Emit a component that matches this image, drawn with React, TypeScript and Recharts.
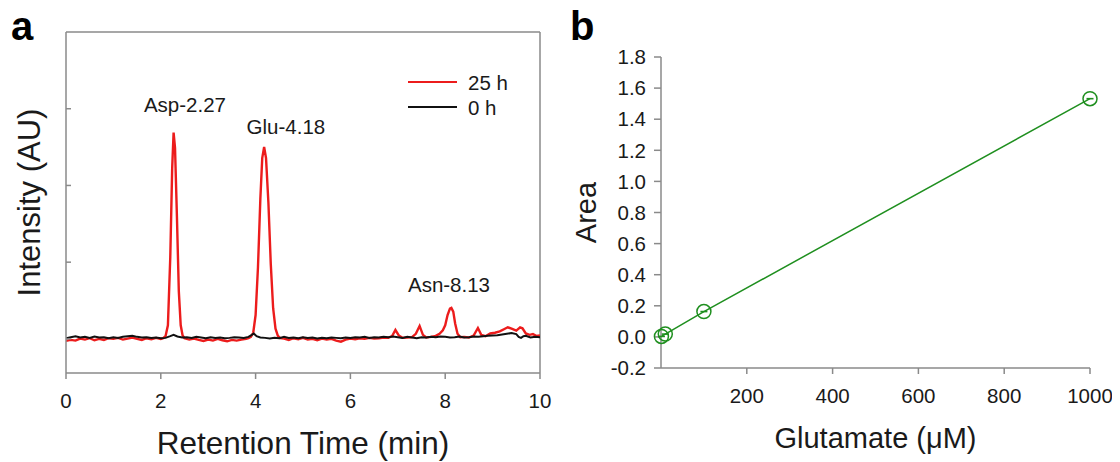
import React from 'react';
import {
  LineChart,
  Line,
  ComposedChart,
  XAxis,
  YAxis,
  ReferenceLine,
  ReferenceDot,
  Legend,
} from 'recharts';

const FONT = '"Liberation Sans", Arial, Helvetica, sans-serif';
const RED = '#ec1c1c';
const BLACK = '#111111';
const GREEN = '#1f8f1f';
const FRAME = '#8a8a8a';
const TEXT = '#1a1a1a';

// ---------- Panel a: chromatogram ----------
const time25h = [
  0.0, 0.1, 0.2, 0.3, 0.4, 0.5, 0.6, 0.7, 0.8, 0.9, 1.0, 1.1, 1.2, 1.3, 1.4, 1.5, 1.6, 1.7, 1.8, 1.9,
  2.0, 2.05, 2.1, 2.15, 2.2, 2.24, 2.27, 2.3, 2.34, 2.38, 2.42, 2.46, 2.5, 2.6, 2.7, 2.8, 2.9, 3.0,
  3.1, 3.2, 3.3, 3.4, 3.5, 3.6, 3.7, 3.8, 3.85, 3.9, 3.95, 4.0, 4.05, 4.1, 4.14, 4.18, 4.22, 4.27,
  4.32, 4.37, 4.42, 4.47, 4.52, 4.6, 4.7, 4.8, 4.9, 5.0, 5.1, 5.2, 5.3, 5.4, 5.5, 5.6, 5.7, 5.8,
  5.9, 6.0, 6.1, 6.2, 6.3, 6.4, 6.5, 6.6, 6.7, 6.8, 6.88, 6.95, 7.02, 7.1, 7.2, 7.3, 7.38, 7.46,
  7.53, 7.6, 7.7, 7.8, 7.88, 7.95, 8.0, 8.05, 8.1, 8.13, 8.17, 8.21, 8.26, 8.32, 8.4, 8.5, 8.6,
  8.69, 8.76, 8.85, 8.95, 9.05, 9.15, 9.25, 9.32, 9.4, 9.5, 9.58, 9.63, 9.7, 9.78, 9.85, 9.92, 10.0,
];
const intensity25h = [
  -0.6, -0.3, -0.5, 0.1, -0.2, 0.2, -0.4, 0.0, -0.3, 0.2, 0.0, 0.3, -0.2, 0.1, 0.4, 0.0, -0.3, 0.2, -0.1, 0.3,
  0.0, 0.2, 0.8, 4, 24, 50, 60.5, 56, 36, 14, 4, 1, 0.2, -0.2, 0.1, -0.3, -0.6, -0.2,
  -0.5, 0.0, -0.4, -0.7, -0.3, -0.5, -0.2, 0.0, 0.2, 0.6, 1.8, 7, 21, 41, 53, 56.3, 53, 40,
  22, 9, 3, 0.9, 0.2, 0.1, -0.3, 0.2, -0.1, 0.3, -0.2, 0.0, -0.4, 0.1, -0.2, 0.0, -0.5, -0.8,
  -0.2, 0.1, -0.1, 0.2, 0.0, 0.3, 0.1, 0.2, 0.4, 0.3, 0.8, 2.6, 1.0, 0.3, 0.4, 0.5, 1.5, 3.8,
  1.2, 0.4, 0.6, 0.9, 1.5, 2.5, 4, 7, 8.9, 9.1, 8.0, 4.5, 1.5, 0.5, 0.6, 0.4, 1.0,
  3.2, 1.2, 0.8, 1.6, 1.8, 2.2, 2.9, 3.4, 3.0, 2.4, 3.4, 3.1, 1.6, 1.2, 1.4, 0.9, 1.0,
];
const time0h = [
  0.0, 0.1, 0.2, 0.3, 0.4, 0.5, 0.6, 0.7, 0.8, 0.9, 1.0, 1.1, 1.2, 1.3, 1.4, 1.5, 1.6, 1.7, 1.8, 1.9,
  2.0, 2.1, 2.2, 2.27, 2.35, 2.45, 2.55, 2.65, 2.75, 2.85, 2.95, 3.05, 3.15, 3.25, 3.35, 3.45, 3.55,
  3.65, 3.75, 3.85, 3.92, 3.96, 4.02, 4.1, 4.2, 4.3, 4.4, 4.5, 4.6, 4.7, 4.8, 4.9, 5.0, 5.1, 5.2,
  5.3, 5.4, 5.5, 5.6, 5.7, 5.8, 5.9, 6.0, 6.1, 6.2, 6.3, 6.4, 6.5, 6.6, 6.7, 6.8, 6.9, 7.0, 7.1,
  7.2, 7.3, 7.4, 7.5, 7.6, 7.7, 7.8, 7.9, 8.0, 8.1, 8.2, 8.3, 8.4, 8.5, 8.6, 8.7, 8.8, 8.9, 9.0,
  9.1, 9.2, 9.3, 9.4, 9.5, 9.55, 9.6, 9.65, 9.7, 9.8, 9.9, 10.0,
];
const intensity0h = [
  0.2, 0.5, 0.8, 0.4, 0.6, 0.3, 0.7, 0.4, 0.5, 0.2, 0.5, 0.3, 0.6, 0.8, 0.9, 0.6, 0.4, 0.5, 0.3, 0.4,
  0.2, 0.3, 0.8, 1.2, 0.7, 0.4, 0.5, 0.3, 0.6, 0.4, 0.2, 0.5, 0.3, 0.4, 0.2, 0.3, 0.5,
  0.4, 0.3, 0.6, 1.2, 1.6, 0.8, 0.4, 0.3, 0.1, 0.3, 0.2, 0.6, 0.3, 0.4, 0.2, 0.5, 0.3, 0.4,
  0.1, 0.3, 0.2, 0.4, 0.3, 0.2, 0.4, 0.3, 0.5, 0.4, 0.6, 0.3, 0.5, 0.4, 0.6, 0.5, 0.7, 0.5, 0.3,
  0.6, 0.4, 0.2, 0.5, 0.4, 0.6, 0.5, 0.7, 0.6, 0.4, 0.5, 0.7, 0.4, 0.5, 0.7, 0.6, 0.8, 0.9, 1.0,
  1.1, 1.3, 1.5, 1.7, 1.4, 0.6, 0.3, 0.8, 0.9, 0.4, 0.6, 0.5,
];
const retentionTicks = [0, 2, 4, 6, 8, 10];
const intensityTicks = [0, 22.5, 45, 67.5];
const peakNames = ['Asp-2.27', 'Glu-4.18', 'Asn-8.13'];
const peakNameTime = [2.51, 4.64, 8.08];
const peakNameLevel = [68.6, 62.2, 15.8];
const legendLabels = ['25 h', '0 h'];

// ---------- Panel b: calibration ----------
const glutamateConc = [1, 10, 100, 1000];
const peakArea = [0.003, 0.018, 0.163, 1.532];
const concTicks = [200, 400, 600, 800, 1000];
const areaTicks = [-0.2, 0, 0.2, 0.4, 0.6, 0.8, 1.0, 1.2, 1.4, 1.6, 1.8];

const series25h = time25h.map((t, i) => ({ t, v: intensity25h[i] }));
const series0h = time0h.map((t, i) => ({ t, v: intensity0h[i] }));
const calibData = glutamateConc.map((c, i) => ({ c, a: peakArea[i] }));

const verticalTitle = (text: string, cxOffset: number, size: number) => (props: any) => {
  const vb = props.viewBox || { x: 0, y: 0, width: 0, height: 0 };
  const cx = vb.x + cxOffset;
  const cy = vb.y + vb.height / 2;
  return (
    <text
      x={cx}
      y={cy}
      transform={`rotate(-90 ${cx} ${cy})`}
      textAnchor="middle"
      dominantBaseline="central"
      fontFamily={FONT}
      fontSize={size}
      fill={TEXT}
    >
      {text}
    </text>
  );
};

const CalibDot = (props: any) => {
  const { cx, cy } = props;
  if (cx == null || cy == null) return null;
  return (
    <g>
      <circle cx={cx} cy={cy} r={7} fill="none" stroke={GREEN} strokeWidth={1.5} />
      <line x1={cx - 3.5} x2={cx + 3.5} y1={cy} y2={cy} stroke={GREEN} strokeWidth={1.6} />
    </g>
  );
};

const legendColors = [RED, BLACK];
const renderLegend = () => (
  <div style={{ fontFamily: FONT, fontSize: 20.5, color: TEXT }}>
    {legendLabels.map((lab, i) => (
      <div key={lab} style={{ display: 'flex', alignItems: 'center', height: 25 }}>
        <svg width={49} height={4} style={{ display: 'block' }}>
          <line x1={0} x2={49} y1={2} y2={2} stroke={legendColors[i]} strokeWidth={2.2} />
        </svg>
        <span style={{ marginLeft: 11, lineHeight: '25px' }}>{lab}</span>
      </div>
    ))}
  </div>
);

const tickStyle = { fontFamily: FONT, fontSize: 20.5, fill: TEXT };

export default function App() {
  return (
    <div
      style={{
        position: 'relative',
        width: 1120,
        height: 462,
        margin: '-8px 0 0 -8px',
        background: '#ffffff',
        overflow: 'hidden',
      }}
    >
      <div style={{ position: 'absolute', left: 0, top: 0 }}>
        <LineChart width={560} height={462} margin={{ top: 32, right: 20, bottom: 0, left: 0 }}>
          <XAxis
            dataKey="t"
            type="number"
            domain={[0, 10]}
            ticks={retentionTicks}
            allowDataOverflow
            height={89}
            tickSize={6}
            tickMargin={14}
            stroke={FRAME}
            strokeWidth={1.5}
            tick={tickStyle}
            tickLine={{ stroke: FRAME }}
            label={{
              value: 'Retention Time (min)',
              position: 'insideBottom',
              offset: 8,
              fontFamily: FONT,
              fontSize: 31.5,
              fill: TEXT,
            }}
          />
          <YAxis
            dataKey="v"
            type="number"
            domain={[-10, 90]}
            ticks={intensityTicks}
            allowDataOverflow
            width={66}
            tickSize={-5}
            tickFormatter={() => ''}
            stroke={FRAME}
            strokeWidth={1.5}
            tickLine={{ stroke: FRAME }}
            label={{ content: verticalTitle('Intensity (AU)', 29, 31) } as any}
          />
          <ReferenceLine y={90} stroke={FRAME} strokeWidth={1.5} />
          <ReferenceLine x={10} stroke={FRAME} strokeWidth={1.5} />
          <Line
            data={series25h}
            dataKey="v"
            type="linear"
            stroke={RED}
            strokeWidth={2.4}
            dot={false}
            isAnimationActive={false}
            name="25 h"
          />
          <Line
            data={series0h}
            dataKey="v"
            type="linear"
            stroke={BLACK}
            strokeWidth={2}
            dot={false}
            isAnimationActive={false}
            name="0 h"
          />
          {peakNames.map((name, i) => (
            <ReferenceDot
              key={name}
              x={peakNameTime[i]}
              y={peakNameLevel[i]}
              r={0}
              fill="none"
              stroke="none"
              label={{ value: name, position: 'center', fontFamily: FONT, fontSize: 20.5, fill: TEXT }}
            />
          ))}
          <Legend
            layout="vertical"
            align="center"
            verticalAlign="middle"
            content={renderLegend}
            wrapperStyle={{ position: 'absolute', left: 408, top: 69.5, width: 'auto', height: 'auto' }}
          />
        </LineChart>
      </div>

      <div style={{ position: 'absolute', left: 560, top: 0 }}>
        <ComposedChart
          width={560}
          height={462}
          data={calibData}
          margin={{ top: 57, right: 30, bottom: 0, left: 0 }}
        >
          <XAxis
            dataKey="c"
            type="number"
            domain={[0, 1000]}
            ticks={concTicks}
            height={94}
            tickSize={6}
            tickMargin={14}
            stroke={FRAME}
            strokeWidth={1.5}
            tick={tickStyle}
            tickLine={{ stroke: FRAME }}
            label={{
              value: 'Glutamate (\u03bcM)',
              position: 'insideBottom',
              offset: 14,
              fontFamily: FONT,
              fontSize: 29,
              fill: TEXT,
            }}
          />
          <YAxis
            type="number"
            domain={[-0.2, 1.8]}
            ticks={areaTicks}
            width={101}
            tickSize={7}
            tickMargin={8}
            tickFormatter={(v: number) => v.toFixed(1)}
            stroke={FRAME}
            strokeWidth={1.5}
            tick={tickStyle}
            tickLine={{ stroke: FRAME }}
            label={{ content: verticalTitle('Area', 26, 29) } as any}
          />
          <Line
            dataKey="a"
            type="linear"
            stroke={GREEN}
            strokeWidth={1.5}
            dot={<CalibDot />}
            isAnimationActive={false}
          />
        </ComposedChart>
      </div>

      <div
        style={{
          position: 'absolute',
          left: 11,
          top: 6,
          fontFamily: FONT,
          fontWeight: 'bold',
          fontSize: 40,
          lineHeight: '40px',
          color: '#000',
        }}
      >
        a
      </div>
      <div
        style={{
          position: 'absolute',
          left: 570,
          top: 6,
          fontFamily: FONT,
          fontWeight: 'bold',
          fontSize: 40,
          lineHeight: '40px',
          color: '#000',
        }}
      >
        b
      </div>
    </div>
  );
}
